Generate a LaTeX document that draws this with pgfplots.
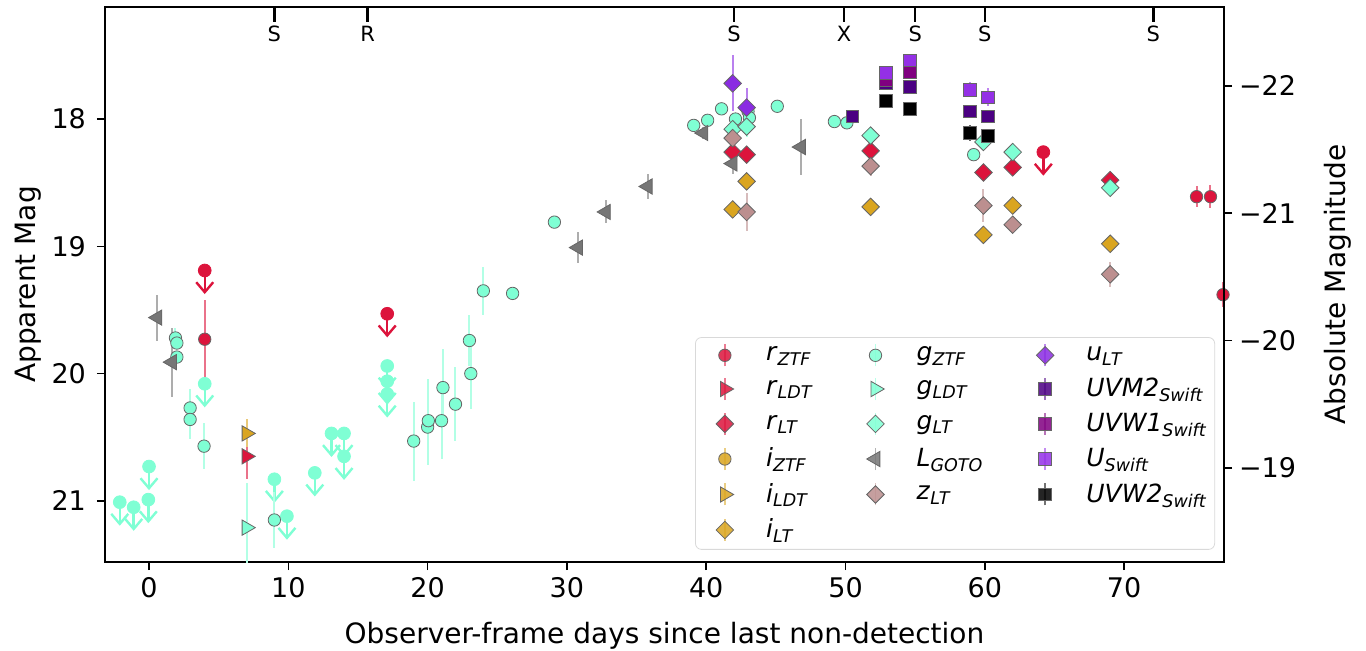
\documentclass[border=0pt]{standalone}
\usepackage{pgfplots}
\pgfplotsset{compat=1.18}
\usepackage{fontspec}
\setmainfont{DejaVu Sans}
\usetikzlibrary{arrows.meta}

\definecolor{crim}{HTML}{DC143C}
\definecolor{aqua}{HTML}{7FFFD4}
\definecolor{gold}{HTML}{DAA520}
\definecolor{gotogray}{HTML}{767676}
\definecolor{rosy}{HTML}{BC8F8F}
\definecolor{bviolet}{HTML}{8A2BE2}
\definecolor{indig}{HTML}{4B0082}
\definecolor{purp}{HTML}{800080}
\definecolor{uswift}{HTML}{9430E6}

\newcommand{\fs}{\fontsize{13.5}{16}\selectfont}
\newcommand{\fl}{\fontsize{14}{17}\selectfont}
\newcommand{\sub}[2]{\textit{#1}\textsubscript{\textit{#2}}}

\tikzset{
  mk/.style={only marks, color=#1, mark options={fill=#1, draw=black!60, line width=0.4pt}},
  lm/.style={only marks, color=#1, mark=*, mark size=3.2pt, mark options={fill=#1, draw=none}},
  circ/.style={mark=*, mark size=3.1pt},
  diam/.style={mark=square*, mark size=3.1pt, every mark/.append style={rotate=45}},
  trir/.style={mark=triangle*, mark size=4.4pt, every mark/.append style={rotate=-90}},
  tril/.style={mark=triangle*, mark size=4.4pt, every mark/.append style={rotate=90}},
  sq/.style={mark=square*, mark size=3.2pt},
  ar/.style={color=#1, line width=1.2pt, -{Straight Barb[length=5pt,width=8.5pt]}},
}
\pgfplotsset{
  err/.style={error bars/y dir=both, error bars/y explicit, error bars/error mark=none,
    error bars/error bar style={color=#1!60!white, line width=1pt}},
  common/.style={scale only axis, width=559.5pt, height=277.5pt,
    xmin=-3.16, xmax=77.17},
}

\begin{document}
\begin{tikzpicture}
\begin{axis}[common,
  ymin=17.12, ymax=21.48, y dir=reverse,
  xtick={0,10,20,30,40,50,60,70}, ytick={18,19,20,21},
  xtick pos=bottom, ytick pos=left, tick align=outside,
  major tick length=4pt, every tick/.style={black, line width=0.8pt},
  axis line style={line width=0.9pt},
  /pgf/number format/assume math mode=true,
  ticklabel style={font=\fs},
  yticklabel style={xshift=-2pt},
  xlabel={Observer-frame days since last non-detection},
  ylabel={Apparent Mag},
  xlabel style={font=\fl, at={(axis description cs:0.5,-0.133)}, anchor=center},
  ylabel style={font=\fl, at={(axis description cs:-0.069,0.5)}, anchor=center},
  legend image code/.code={
    \path (-12pt,0pt);
    \draw[#1, mark=none, line width=0.8pt, opacity=0.55] (0pt,-5.5pt) -- (0pt,5.5pt);
    \draw[#1] plot coordinates {(0pt,0pt)};
  },
  legend style={at={(0.992,0.022)}, anchor=south east, draw=black!15,
    rounded corners=3pt, fill=white, fill opacity=0.85, text opacity=1,
    font=\fontsize{12.5}{14}\selectfont, row sep=4.35pt,
    inner xsep=2.5pt, inner ysep=3pt,
    nodes={inner sep=1.2pt},
    /tikz/every odd column/.style={column sep=15pt},
    /tikz/every even column/.style={column sep=17.5pt}},
  legend cell align=left, legend columns=3,
]
% r band
\addplot[ar=crim, forget plot, quiver={u value=0, v value=0.185}] coordinates {(4.0,19.19)(17.1,19.53)(64.2,18.26)};
\addplot[lm=crim, forget plot] coordinates {(4.0,19.19)(17.1,19.53)(64.2,18.26)};
\addplot[mk=crim, circ, err=crim, forget plot] coordinates {
  (4.0,19.73) +- (0,0.31) (75.2,18.61) +- (0,0.08) (76.2,18.61) +- (0,0.09) (77.1,19.38) +- (0,0.1)};
\addplot[mk=crim, trir, err=crim, forget plot] coordinates {(7.0,20.65) +- (0,0.18)};
\addplot[mk=crim, diam, err=crim, forget plot] coordinates {
  (41.9,18.26) +- (0,0.04) (42.9,18.28) +- (0,0.04) (51.8,18.25) +- (0,0.04)
  (59.9,18.42) +- (0,0.04) (62.0,18.38) +- (0,0.04) (69.0,18.48) +- (0,0.04)};
% i band
\addplot[mk=gold, trir, err=gold, forget plot] coordinates {(7.0,20.47) +- (0,0.11)};
\addplot[mk=gold, diam, err=gold, forget plot] coordinates {
  (41.9,18.71) +- (0,0.05) (42.9,18.49) +- (0,0.06) (51.8,18.69) +- (0,0.04)
  (59.9,18.91) +- (0,0.04) (62.0,18.68) +- (0,0.06) (69.0,18.98) +- (0,0.04)};
% g band
\addplot[ar=aqua, forget plot, quiver={u value=0, v value=0.185}] coordinates {
  (-2.1,21.01)(-1.1,21.05)(-0.05,20.99)(0.0,20.73)(4.0,20.08)(9.0,20.83)(9.9,21.12)
  (11.9,20.78)(13.1,20.47)(14.0,20.47)(14.0,20.65)(17.1,19.94)(17.1,20.06)(17.1,20.16)};
\addplot[lm=aqua, forget plot] coordinates {
  (-2.1,21.01)(-1.1,21.05)(-0.05,20.99)(0.0,20.73)(4.0,20.08)(9.0,20.83)(9.9,21.12)
  (11.9,20.78)(13.1,20.47)(14.0,20.47)(14.0,20.65)(17.1,19.94)(17.1,20.06)(17.1,20.16)};
\addplot[mk=aqua, circ, err=aqua, forget plot] coordinates {
  (1.9,19.72) +- (0,0.08) (2.0,19.76) +- (0,0.05) (2.0,19.87) +- (0,0.05)
  (2.95,20.27) +- (0,0.15) (2.95,20.36) +- (0,0.15) (3.95,20.57) +- (0,0.18)
  (9.0,21.15) +- (0,0.22) (19.0,20.53) +- (0,0.31) (20.0,20.42) +- (0,0.3)
  (20.05,20.37) +- (0,0.33) (21.0,20.37) +- (0,0.3) (21.1,20.11) +- (0,0.3)
  (22.0,20.24) +- (0,0.29) (23.0,19.74) +- (0,0.2) (23.1,20.0) +- (0,0.28)
  (24.0,19.35) +- (0,0.19) (26.1,19.37) +- (0,0.04) (29.1,18.81) +- (0,0.03)
  (39.1,18.05) +- (0,0.03) (40.1,18.01) +- (0,0.03) (41.1,17.92) +- (0,0.03)
  (42.1,18.0) +- (0,0.03) (43.0,17.94) +- (0,0.03) (43.1,17.99) +- (0,0.03)
  (45.1,17.90) +- (0,0.03) (49.2,18.02) +- (0,0.03) (50.1,18.03) +- (0,0.03)
  (59.2,18.28) +- (0,0.04)};
\addplot[mk=aqua, trir, err=aqua, forget plot] coordinates {(7.0,21.21) +- (0,0.35)};
\addplot[mk=aqua, diam, err=aqua, forget plot] coordinates {
  (41.9,18.08) +- (0,0.04) (42.9,18.06) +- (0,0.08) (51.8,18.13) +- (0,0.04)
  (59.9,18.18) +- (0,0.05) (62.0,18.26) +- (0,0.07) (69.0,18.54) +- (0,0.05)};
% L GOTO
\addplot[mk=gotogray, tril, err=gotogray, forget plot] coordinates {
  (0.6,19.56) +- (0,0.18) (1.65,19.91) +- (0,0.27) (30.8,19.01) +- (0,0.12)
  (32.8,18.73) +- (0,0.09) (35.8,18.53) +- (0,0.1) (39.8,18.11) +- (0,0.05)
  (41.9,18.35) +- (0,0.08) (46.8,18.22) +- (0,0.22)};
% z band
\addplot[mk=rosy, diam, err=rosy, forget plot] coordinates {
  (41.9,18.15) +- (0,0.04) (42.9,18.73) +- (0,0.15) (51.8,18.37) +- (0,0.08)
  (59.9,18.68) +- (0,0.13) (62.0,18.83) +- (0,0.06) (69.0,19.22) +- (0,0.1)};
% u band
\addplot[mk=bviolet, diam, err=bviolet, forget plot] coordinates {
  (41.9,17.72) +- (0,0.22) (42.9,17.91) +- (0,0.15)};
% Swift
\addplot[mk=indig, sq, err=indig, forget plot] coordinates {
  (50.5,17.98) +- (0,0.03) (52.9,17.72) +- (0,0.04) (54.6,17.75) +- (0,0.04)
  (58.9,17.94) +- (0,0.05) (60.2,17.98) +- (0,0.05)};
\addplot[mk=purp, sq, err=purp, forget plot] coordinates {
  (52.9,17.69) +- (0,0.04) (54.6,17.63) +- (0,0.04)};
\addplot[mk=uswift, sq, err=uswift, forget plot] coordinates {
  (52.9,17.64) +- (0,0.04) (54.6,17.54) +- (0,0.05) (58.9,17.77) +- (0,0.06) (60.2,17.83) +- (0,0.07)};
\addplot[mk=black, sq, err=black, forget plot] coordinates {
  (52.9,17.86) +- (0,0.03) (54.6,17.92) +- (0,0.04) (58.9,18.11) +- (0,0.06) (60.2,18.13) +- (0,0.05)};

% legend, row by row
\addlegendimage{mk=crim, circ}\addlegendentry{\sub{r}{ZTF}}
\addlegendimage{mk=aqua, circ}\addlegendentry{\sub{g}{ZTF}}
\addlegendimage{mk=bviolet, diam}\addlegendentry{\sub{u}{LT}}
\addlegendimage{mk=crim, trir}\addlegendentry{\sub{r}{LDT}}
\addlegendimage{mk=aqua, trir}\addlegendentry{\sub{g}{LDT}}
\addlegendimage{mk=indig, sq}\addlegendentry{\sub{UVM2}{Swift}}
\addlegendimage{mk=crim, diam}\addlegendentry{\sub{r}{LT}}
\addlegendimage{mk=aqua, diam}\addlegendentry{\sub{g}{LT}}
\addlegendimage{mk=purp, sq}\addlegendentry{\sub{UVW1}{Swift}}
\addlegendimage{mk=gold, circ}\addlegendentry{\sub{i}{ZTF}}
\addlegendimage{mk=gotogray, tril}\addlegendentry{\sub{L}{GOTO}}
\addlegendimage{mk=uswift, sq}\addlegendentry{\sub{U}{Swift}}
\addlegendimage{mk=gold, trir}\addlegendentry{\sub{i}{LDT}}
\addlegendimage{mk=rosy, diam}\addlegendentry{\sub{z}{LT}}
\addlegendimage{mk=black, sq}\addlegendentry{\sub{UVW2}{Swift}}
\addlegendimage{mk=gold, diam}\addlegendentry{\sub{i}{LT}}
\end{axis}

% right axis: absolute magnitude
\begin{axis}[common,
  ymin=-22.62, ymax=-18.26, y dir=reverse,
  axis y line*=right, axis x line=none,
  ytick={-22,-21,-20,-19}, yticklabels={−22,−21,−20,−19},
  tick align=outside, major tick length=4pt,
  every tick/.style={black, line width=0.8pt},
  axis line style={line width=0.9pt},
  ticklabel style={font=\fs},
  ylabel={Absolute Magnitude},
  ylabel style={font=\fl, at={(axis description cs:1.102,0.5)}, anchor=center},
]
\addplot[draw=none, forget plot] coordinates {(0,-20)};
\end{axis}

% spectra epochs on top
\begin{axis}[common, ymin=0, ymax=1,
  axis y line=none, axis x line*=top,
  xtick={9.0,15.7,42.0,49.9,55.0,60.0,72.1},
  xticklabels={S,R,S,X,S,S,S},
  tick align=inside, major tick length=7.5pt,
  every tick/.style={black, line width=1.3pt},
  axis line style={line width=0.9pt},
  xticklabel style={anchor=north, yshift=-6pt, font=\fontsize{10.5}{12}\selectfont},
]
\addplot[draw=none, forget plot] coordinates {(0,0.5)};
\end{axis}

\pgfresetboundingbox
\path ([xshift=-52.5pt,yshift=-44.5pt]current axis.south west)
  rectangle ([xshift=71pt,yshift=3.5pt]current axis.north east);
\end{tikzpicture}
\end{document}
